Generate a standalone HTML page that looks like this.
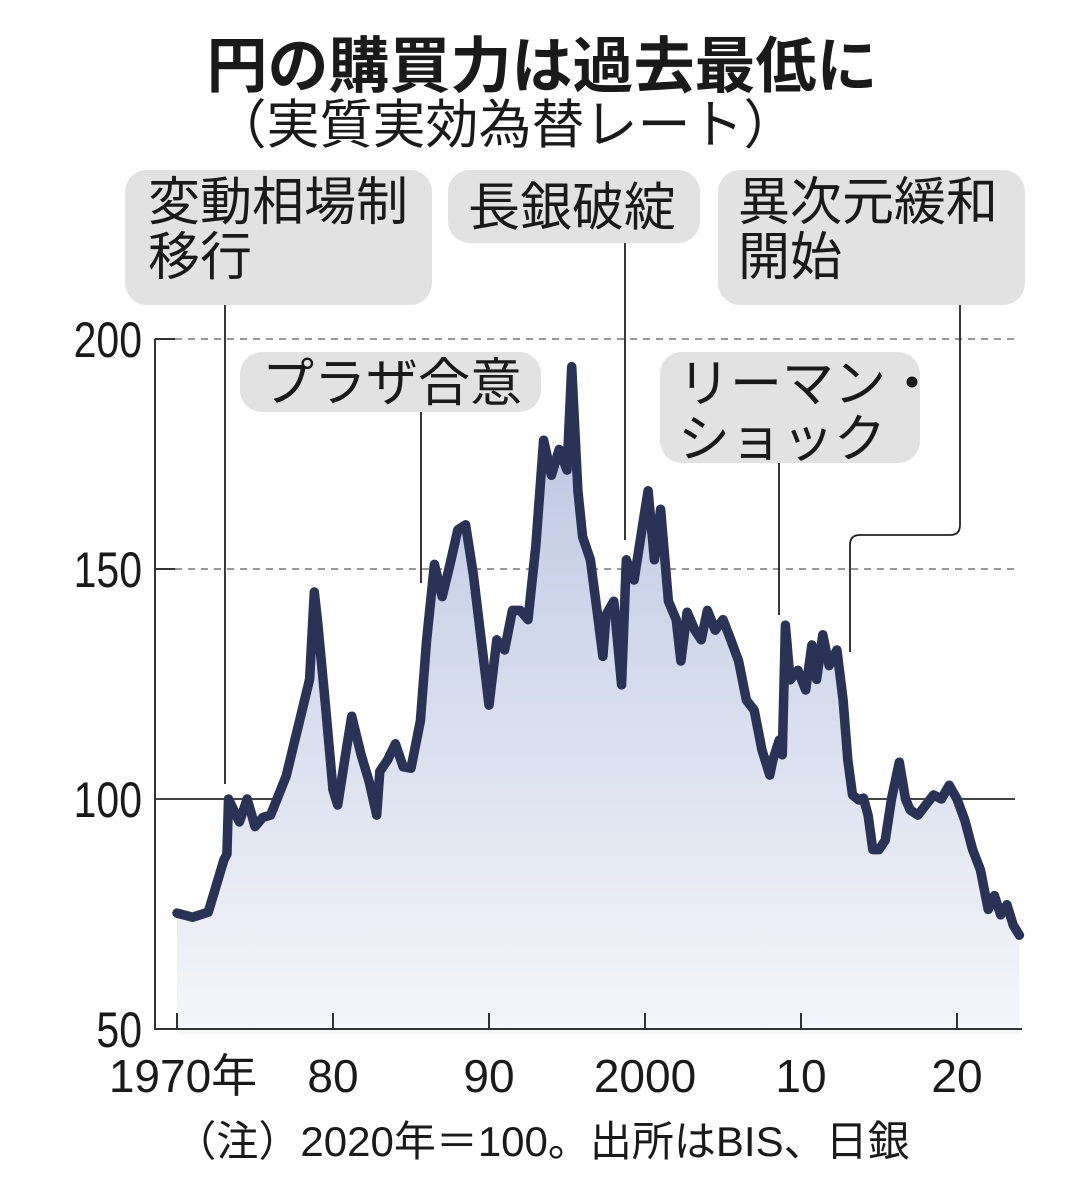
<!DOCTYPE html>
<html><head><meta charset="utf-8">
<style>
html,body{margin:0;padding:0;background:#fff;}
svg{display:block;}
text{font-family:"Liberation Sans","Noto Sans CJK JP",sans-serif;fill:#1a1a1a;}
</style></head>
<body>
<svg id="chart" width="1084" height="1200" viewBox="0 0 1084 1200">
<defs>
<linearGradient id="fillg" x1="0" y1="0" x2="0" y2="1">
<stop offset="0" stop-color="#b8c4e0"/>
<stop offset="1" stop-color="#f5f6fa"/>
</linearGradient>
</defs>
<text x="542" y="87" text-anchor="middle" font-size="61" font-weight="bold">円の購買力は過去最低に</text>
<text x="505" y="143" text-anchor="middle" font-size="53">（実質実効為替レート）</text>
<g id="grid"></g>
<g id="series"></g>
<g id="axes"></g>
<g id="annotations"></g>
<text x="542" y="1156" text-anchor="middle" font-size="42">（注）2020年＝100。出所はBIS、日銀</text>
</svg>
<script>
const years = [1970,1971,1972,1972.5,1973,1973.2,1973.3,1974,1974.5,1975,1975.5,1976,1977,1977.5,1978,1978.5,1978.8,1979,1979.5,1980,1980.3,1980.8,1981.2,1981.8,1982.3,1982.8,1983,1983.5,1984,1984.5,1985,1985.6,1986,1986.5,1987,1987.5,1988,1988.5,1989,1989.5,1990,1990.5,1991,1991.5,1992,1992.5,1993,1993.5,1994,1994.5,1995,1995.3,1995.7,1996,1996.5,1997,1997.3,1997.5,1998,1998.5,1998.8,1999.3,1999.8,2000.2,2000.6,2001,2001.5,2002,2002.3,2002.7,2003.2,2003.6,2004,2004.5,2005,2005.5,2006,2006.5,2007,2007.5,2008,2008.2,2008.6,2008.8,2009,2009.3,2009.8,2010.3,2010.7,2011,2011.4,2011.8,2012.3,2012.7,2013,2013.3,2013.7,2014,2014.3,2014.6,2015,2015.4,2015.8,2016.3,2016.7,2017,2017.5,2018,2018.5,2019,2019.5,2020,2020.5,2021,2021.5,2022,2022.4,2022.8,2023.2,2023.6,2024];
const values = [75.2,74.3,75.4,81,86.7,88,100,95,100,94,96,96.5,105,112,119,126,145,139,121,102,98.7,109.6,118,109.6,104,96.5,106,108.5,112,107,106.7,117,134.5,151,144,151,158.5,159.6,148.7,134.6,120.4,134.6,132.4,141,141,139,155,178,170.4,176,171.5,194,167,157,152,139,131,140,143,124.8,152,147.6,158.5,167,152,163,143,139,130,140.6,136.7,134.6,141,136.7,139,134.6,130,121.5,119.3,110.6,105.2,108.5,112.8,109.6,137.8,125.9,128,123.7,133.5,126,135.7,129,132.4,121.5,108.5,100.9,99.8,100.2,96.5,89,89,91,100,108,100,97.6,96.5,98.7,100.9,100,103,100,95.4,89,84.6,76,79,74.8,77,72.6,70.4];
const yTicks = [50,100,150,200];
const xTicks = [1970,1980,1990,2000,2010,2020];
const xTickLabels = ["1970年","80","90","2000","10","20"];

const NS="http://www.w3.org/2000/svg";
function X(yr){return 177+(yr-1970)*15.6;}
function Y(v){return 1029-(v-50)*4.6;}
function mk(tag,attrs,parent){const e=document.createElementNS(NS,tag);for(const k in attrs)e.setAttribute(k,attrs[k]);parent.appendChild(e);return e;}
const grid=document.getElementById('grid'),series=document.getElementById('series'),axes=document.getElementById('axes'),ann=document.getElementById('annotations');

yTicks.forEach(v=>{
  const y=Y(v);
  if(v===150||v===200){
    const g=mk('line',{x1:175,x2:1015,y1:y,y2:y,stroke:'#777','stroke-width':1.5,'stroke-dasharray':'7 6'},grid);
    
    
    const t=mk('line',{x1:155,x2:175,y1:y,y2:y,stroke:'#333','stroke-width':2},axes);
    
    
  } else if(v===100){
    const g=mk('line',{x1:155,x2:1015,y1:y,y2:y,stroke:'#444','stroke-width':2},grid);
    
    
  }
  const l=mk('text',{x:142,y:y+18,'text-anchor':'end','font-size':50,transform:`translate(${142*(1-0.82)} 0) scale(0.82 1)`},axes);
  l.textContent=v;
  
  
});

let d='';
years.forEach((yr,i)=>{d+=(i?'L':'M')+X(yr).toFixed(1)+' '+Y(values[i]).toFixed(1);});
const area=mk('path',{d:d+`L${X(years[years.length-1])} 1034L${X(years[0])} 1034Z`,fill:'url(#fillg)',stroke:'none'},series);


const line=mk('path',{d:d,fill:'none',stroke:'#2a3355','stroke-width':9.5,'stroke-linejoin':'round','stroke-linecap':'round'},series);



const ya=mk('line',{x1:155,x2:155,y1:339,y2:1030,stroke:'#333','stroke-width':2},axes);


const xa=mk('line',{x1:154,x2:1022,y1:1029,y2:1029,stroke:'#333','stroke-width':2},axes);


xTicks.forEach((yr,i)=>{
  const x=X(yr);
  const t=mk('line',{x1:x,x2:x,y1:1013,y2:1029,stroke:'#333','stroke-width':2},axes);
  
  
  const l=mk('text',{x:x+(i===0?6:0),y:1092,'text-anchor':'middle','font-size':46},axes);
  l.textContent=xTickLabels[i];
  
  
});

const boxes=[
  {n:'annotation-floating-rate',x:125,y:170,w:307,h:135,lines:['変動相場制','移行'],lx:148},
  {n:'annotation-ltcb-collapse',x:448,y:170,w:252,h:73,lines:['長銀破綻'],lx:468},
  {n:'annotation-qqe',x:718,y:170,w:307,h:135,lines:['異次元緩和','開始'],lx:738},
  {n:'annotation-plaza-accord',x:240,y:352,w:301,h:60,lines:['プラザ合意'],lx:262},
  {n:'annotation-lehman-shock',x:660,y:352,w:260,h:111,lines:['リーマン・','ショック'],lx:678}
];
boxes.forEach(b=>{
  const g=mk('g',{},ann);
  
  
  mk('rect',{x:b.x,y:b.y,width:b.w,height:b.h,rx:22,fill:'#e2e2e2'},g);
  b.lines.forEach((s,i)=>{
    const t=mk('text',{x:b.lx,y:b.y+(b.h<80?b.h/2+19:50+i*55),'font-size':52},g);
    t.textContent=s;
  });
});
const leaders=[
  ['leader-floating-rate','M225 305 L225 784'],
  ['leader-plaza','M421 412 L421 583'],
  ['leader-ltcb','M625 243 L625 540'],
  ['leader-lehman','M779 463 L779 615'],
  ['leader-qqe','M960 305 L960 525 Q960 535 950 535 L860 535 Q850 535 850 545 L850 652']
];
leaders.forEach(([n,p])=>{
  const e=mk('path',{d:p,fill:'none',stroke:'#222','stroke-width':1.8},ann);
  
  
});
</script>
</body></html>
